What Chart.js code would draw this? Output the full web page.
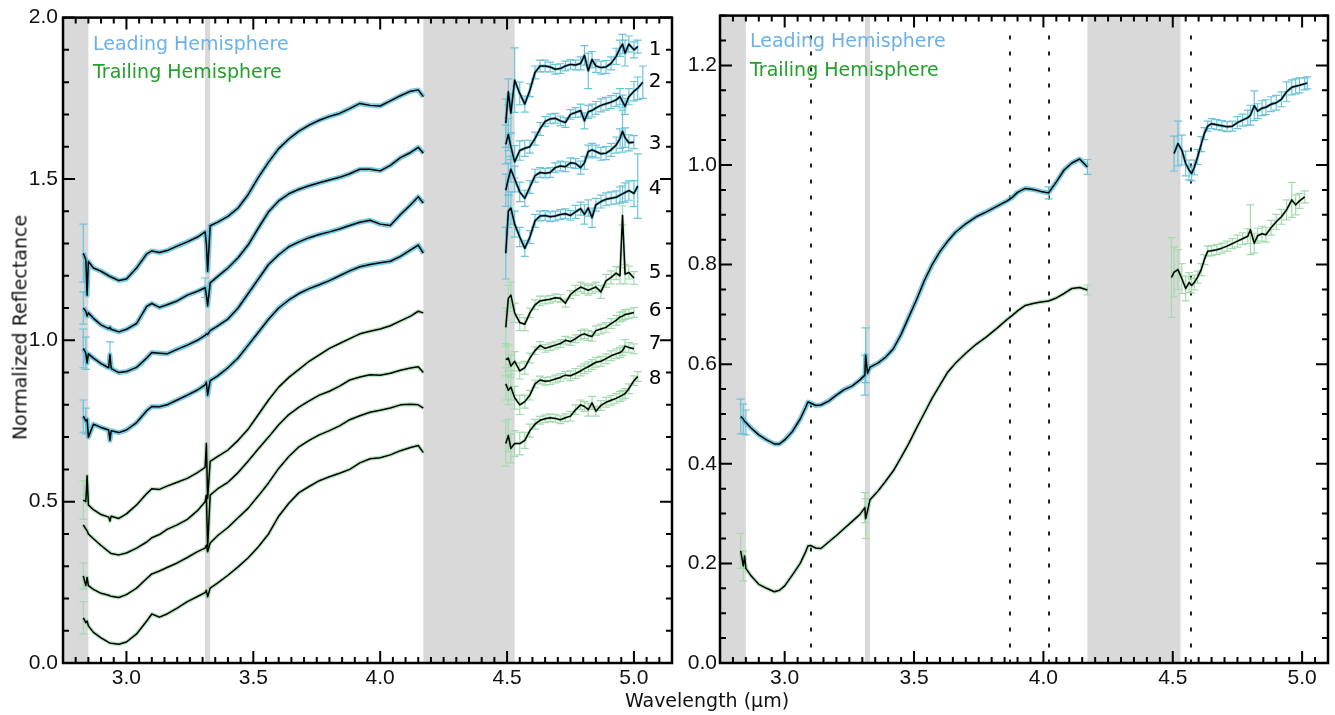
<!DOCTYPE html>
<html>
<head>
<meta charset="utf-8">
<script src="https://cdn.jsdelivr.net/npm/chart.js@4.4.1/dist/chart.umd.min.js"></script>
<style>
  body { margin: 0; background: #fff; width: 1335px; height: 715px; position: relative; overflow: hidden; font-family: "DejaVu Sans", sans-serif; }
  canvas { position: absolute; top: 0; }
  #left { left: 0; }
  #right { left: 675px; }
  .txt { position: absolute; white-space: nowrap; font-size: 19px; line-height: 19px; z-index: 2; }
  .lead { color: #6cb0ea; }
  .trail { color: #22a02a; }
</style>
</head>
<body>
<canvas id="left" width="675" height="715"></canvas>
<canvas id="right" width="660" height="715"></canvas>

<div class="txt lead" style="left:93px;top:34px">Leading Hemisphere</div>
<div class="txt trail" style="left:93px;top:62px">Trailing Hemisphere</div>
<div class="txt lead" style="left:750px;top:31px">Leading Hemisphere</div>
<div class="txt trail" style="left:750px;top:60px">Trailing Hemisphere</div>
<div class="txt" style="left:-130px;top:318px;width:300px;text-align:center;transform:rotate(-90deg);color:#111">Normalized Reflectance</div>
<div class="txt" style="left:707px;top:691px;transform:translateX(-50%);color:#111">Wavelength (μm)</div>

<script>
// axis ticks
const xTicks = [3.0, 3.5, 4.0, 4.5, 5.0];
const yTicksLeft = [0.0, 0.5, 1.0, 1.5, 2.0];
const yTicksRight = [0.0, 0.2, 0.4, 0.6, 0.8, 1.0, 1.2];

// masked wavelength ranges and marked bands (µm)
const grayBands = [[2.75, 2.85], [3.31, 3.33], [4.17, 4.53]];
const bandLines = [3.10, 3.87, 4.02, 4.57];

// left panel: 8 spectra, short- and long-wavelength parts
const wlShortL = [2.83, 2.84, 2.845, 2.85, 2.87, 2.90, 2.93, 2.935, 2.94, 2.97, 3.00, 3.04, 3.08, 3.10, 3.13, 3.16, 3.20, 3.24, 3.28, 3.31, 3.315, 3.32, 3.33, 3.36, 3.40, 3.44, 3.48, 3.52, 3.56, 3.60, 3.64, 3.68, 3.72, 3.76, 3.80, 3.84, 3.88, 3.92, 3.96, 4.00, 4.04, 4.08, 4.12, 4.15, 4.17];
const wlLongL = [4.495, 4.505, 4.515, 4.53, 4.55, 4.57, 4.59, 4.61, 4.63, 4.65, 4.67, 4.69, 4.71, 4.73, 4.75, 4.77, 4.79, 4.805, 4.82, 4.835, 4.85, 4.87, 4.89, 4.91, 4.93, 4.945, 4.955, 4.965, 4.98, 5.00, 5.015, 5.035];

const s1Short = [1.27, 1.25, 1.14, 1.244, 1.224, 1.214, 1.20, 1.198, 1.196, 1.185, 1.19, 1.224, 1.268, 1.277, 1.272, 1.278, 1.292, 1.305, 1.32, 1.336, 1.30, 1.214, 1.355, 1.366, 1.384, 1.41, 1.452, 1.505, 1.552, 1.594, 1.624, 1.648, 1.667, 1.682, 1.694, 1.703, 1.718, 1.734, 1.728, 1.726, 1.742, 1.758, 1.772, 1.776, 1.755];
const s2Short = [1.10, 1.09, 1.075, 1.085, 1.068, 1.048, 1.036, 1.04, 1.034, 1.026, 1.034, 1.052, 1.105, 1.114, 1.102, 1.11, 1.122, 1.14, 1.152, 1.163, 1.14, 1.107, 1.178, 1.198, 1.224, 1.256, 1.296, 1.348, 1.398, 1.432, 1.454, 1.468, 1.479, 1.488, 1.497, 1.505, 1.516, 1.53, 1.53, 1.525, 1.542, 1.566, 1.582, 1.598, 1.58];
const s3Short = [0.975, 0.96, 0.93, 0.958, 0.945, 0.928, 0.915, 0.955, 0.912, 0.90, 0.903, 0.916, 0.945, 0.962, 0.96, 0.958, 0.972, 0.985, 1.0, 1.015, 1.02, 1.018, 1.03, 1.045, 1.066, 1.10, 1.145, 1.19, 1.235, 1.265, 1.29, 1.305, 1.318, 1.328, 1.336, 1.345, 1.356, 1.366, 1.372, 1.36, 1.356, 1.39, 1.42, 1.445, 1.425];
const s4Short = [0.765, 0.75, 0.755, 0.70, 0.74, 0.73, 0.722, 0.69, 0.72, 0.714, 0.722, 0.745, 0.782, 0.795, 0.794, 0.80, 0.815, 0.83, 0.846, 0.862, 0.87, 0.83, 0.875, 0.89, 0.915, 0.945, 0.985, 1.025, 1.065, 1.10, 1.125, 1.145, 1.16, 1.172, 1.185, 1.20, 1.215, 1.228, 1.235, 1.24, 1.245, 1.26, 1.28, 1.295, 1.27];
const s5Short = [0.505, 0.50, 0.58, 0.49, 0.475, 0.46, 0.452, 0.44, 0.455, 0.448, 0.462, 0.49, 0.525, 0.54, 0.538, 0.548, 0.56, 0.572, 0.59, 0.606, 0.68, 0.51, 0.625, 0.64, 0.66, 0.69, 0.725, 0.77, 0.815, 0.855, 0.885, 0.91, 0.935, 0.955, 0.975, 0.99, 1.005, 1.02, 1.028, 1.035, 1.045, 1.06, 1.075, 1.09, 1.085];
const s6Short = [0.428, 0.415, 0.41, 0.40, 0.385, 0.364, 0.345, 0.342, 0.339, 0.335, 0.341, 0.356, 0.375, 0.388, 0.398, 0.414, 0.428, 0.445, 0.472, 0.50, 0.52, 0.36, 0.52, 0.54, 0.56, 0.59, 0.626, 0.664, 0.70, 0.738, 0.77, 0.793, 0.812, 0.83, 0.842, 0.858, 0.877, 0.886, 0.893, 0.892, 0.898, 0.907, 0.914, 0.918, 0.90];
const s7Short = [0.27, 0.24, 0.265, 0.24, 0.228, 0.216, 0.21, 0.208, 0.207, 0.203, 0.212, 0.232, 0.262, 0.276, 0.285, 0.296, 0.31, 0.327, 0.345, 0.356, 0.365, 0.345, 0.372, 0.395, 0.42, 0.45, 0.48, 0.518, 0.558, 0.603, 0.64, 0.67, 0.69, 0.707, 0.72, 0.735, 0.754, 0.766, 0.777, 0.783, 0.79, 0.80, 0.802, 0.80, 0.79];
const s8Short = [0.14, 0.125, 0.13, 0.115, 0.095, 0.078, 0.064, 0.062, 0.061, 0.058, 0.065, 0.09, 0.13, 0.152, 0.142, 0.152, 0.17, 0.19, 0.206, 0.218, 0.225, 0.205, 0.232, 0.248, 0.272, 0.298, 0.326, 0.36, 0.40, 0.455, 0.495, 0.528, 0.547, 0.565, 0.577, 0.588, 0.60, 0.62, 0.633, 0.636, 0.645, 0.658, 0.668, 0.674, 0.652];

// the few visible uncertainties on the short parts, keyed by position in wlShortL
const e1Short = { 0: 0.09 };
const e2Short = { 0: 0.05, 19: 0.03 };
const e3Short = { 0: 0.06, 1: 0.05, 7: 0.04 };
const e4Short = { 0: 0.05, 1: 0.04 };
const e5Short = { 0: 0.06 };
const e6Short = {};
const e7Short = { 0: 0.04 };
const e8Short = { 0: 0.05 };

const s1Long = [1.673, 1.77, 1.704, 1.806, 1.765, 1.732, 1.775, 1.83, 1.85, 1.85, 1.847, 1.84, 1.842, 1.85, 1.855, 1.853, 1.858, 1.883, 1.835, 1.87, 1.85, 1.845, 1.847, 1.858, 1.88, 1.905, 1.918, 1.89, 1.918, 1.90, 1.91, null];
const s2Long = [1.607, 1.638, 1.60, 1.553, 1.588, 1.595, 1.60, 1.625, 1.655, 1.678, 1.686, 1.688, 1.68, 1.675, 1.70, 1.706, 1.712, 1.68, 1.708, 1.712, 1.72, 1.728, 1.733, 1.738, 1.745, 1.755, 1.74, 1.725, 1.755, 1.772, 1.781, 1.80];
const s3Long = [1.465, 1.50, 1.53, 1.50, 1.46, 1.44, 1.475, 1.51, 1.52, 1.518, 1.52, 1.535, 1.54, 1.538, 1.55, 1.548, 1.535, 1.55, 1.585, 1.59, 1.585, 1.578, 1.58, 1.59, 1.605, 1.625, 1.648, 1.628, 1.612, 1.614, null, null];
const s4Long = [1.27, 1.40, 1.41, 1.36, 1.32, 1.285, 1.32, 1.37, 1.385, 1.387, 1.383, 1.385, 1.39, 1.392, 1.387, 1.398, 1.408, 1.39, 1.41, 1.38, 1.42, 1.43, 1.437, 1.44, 1.443, 1.45, 1.454, 1.458, 1.464, 1.455, 1.478, null];
const s5Long = [1.04, 1.13, 1.14, 1.085, 1.055, 1.05, 1.085, 1.11, 1.122, 1.125, 1.127, 1.132, 1.13, 1.115, 1.142, 1.155, 1.165, 1.16, 1.155, 1.16, 1.165, 1.15, 1.184, 1.195, 1.208, 1.20, 1.387, 1.205, 1.21, 1.193, null, null];
const s6Long = [0.94, 0.945, 0.92, 0.935, 0.905, 0.915, 0.945, 0.968, 0.984, 0.975, 0.98, 0.985, 0.99, 1.0, 0.996, 1.005, 1.016, 1.02, 1.015, 1.012, 1.03, 1.035, 1.04, 1.052, 1.062, 1.072, 1.075, 1.08, 1.082, 1.086, null, null];
const s7Long = [0.865, 0.845, 0.855, 0.822, 0.80, 0.81, 0.83, 0.865, 0.877, 0.873, 0.875, 0.88, 0.885, 0.892, 0.89, 0.897, 0.905, 0.912, 0.918, 0.925, 0.932, 0.935, 0.943, 0.952, 0.958, 0.962, 0.968, 0.982, 0.978, 0.974, null, null];
const s8Long = [0.68, 0.705, 0.665, 0.68, 0.68, 0.69, 0.72, 0.74, 0.752, 0.757, 0.76, 0.758, 0.754, 0.76, 0.765, 0.785, 0.80, 0.795, 0.785, 0.806, 0.78, 0.798, 0.808, 0.814, 0.82, 0.826, 0.83, 0.835, 0.85, 0.875, 0.888, null];

// 1-sigma uncertainties on the long-wavelength parts
const e1Long = [0.075, 0.04, 0.06, 0.1, 0.035, 0.025, 0.02, 0.02, 0.018, 0.018, 0.015, 0.015, 0.015, 0.015, 0.015, 0.015, 0.02, 0.03, 0.055, 0.025, 0.02, 0.02, 0.02, 0.02, 0.025, 0.025, 0.03, 0.04, 0.025, 0.025, 0.02, null];
const e2Long = [0.06, 0.05, 0.04, 0.05, 0.03, 0.025, 0.02, 0.02, 0.02, 0.015, 0.015, 0.015, 0.015, 0.015, 0.015, 0.015, 0.02, 0.025, 0.02, 0.02, 0.02, 0.02, 0.02, 0.02, 0.02, 0.025, 0.02, 0.025, 0.025, 0.03, 0.035, 0.05];
const e3Long = [0.05, 0.05, 0.04, 0.04, 0.03, 0.025, 0.02, 0.02, 0.015, 0.015, 0.015, 0.015, 0.015, 0.015, 0.015, 0.015, 0.02, 0.02, 0.02, 0.02, 0.02, 0.02, 0.02, 0.02, 0.025, 0.03, 0.065, 0.03, 0.025, 0.02, null, null];
const e4Long = [0.08, 0.05, 0.05, 0.04, 0.03, 0.025, 0.02, 0.02, 0.015, 0.015, 0.015, 0.015, 0.015, 0.015, 0.015, 0.02, 0.02, 0.03, 0.025, 0.03, 0.02, 0.02, 0.02, 0.02, 0.02, 0.025, 0.025, 0.03, 0.03, 0.04, 0.1, null];
const e5Long = [0.06, 0.04, 0.04, 0.03, 0.025, 0.02, 0.015, 0.015, 0.015, 0.012, 0.012, 0.012, 0.012, 0.012, 0.012, 0.015, 0.015, 0.015, 0.015, 0.015, 0.015, 0.02, 0.02, 0.02, 0.02, 0.025, 0.03, 0.03, 0.02, 0.02, null, null];
const e6Long = [0.05, 0.04, 0.035, 0.03, 0.025, 0.02, 0.015, 0.012, 0.012, 0.012, 0.012, 0.012, 0.012, 0.012, 0.012, 0.012, 0.015, 0.015, 0.015, 0.015, 0.015, 0.015, 0.015, 0.015, 0.015, 0.015, 0.015, 0.015, 0.015, 0.015, null, null];
const e7Long = [0.05, 0.045, 0.04, 0.035, 0.03, 0.02, 0.015, 0.012, 0.012, 0.012, 0.012, 0.012, 0.012, 0.012, 0.015, 0.015, 0.015, 0.015, 0.015, 0.015, 0.015, 0.015, 0.015, 0.015, 0.015, 0.015, 0.015, 0.02, 0.015, 0.015, null, null];
const e8Long = [0.07, 0.05, 0.045, 0.04, 0.035, 0.025, 0.02, 0.015, 0.012, 0.012, 0.012, 0.012, 0.012, 0.012, 0.015, 0.015, 0.015, 0.015, 0.02, 0.02, 0.015, 0.015, 0.015, 0.015, 0.015, 0.015, 0.015, 0.015, 0.015, 0.015, 0.015, null];

const spectrumNames = ['1', '2', '3', '4', '5', '6', '7', '8'];
const nameY = [1.90, 1.80, 1.61, 1.47, 1.21, 1.09, 0.99, 0.88];

// right panel: hemisphere averages
const wlShortR = [2.83, 2.84, 2.845, 2.85, 2.87, 2.90, 2.93, 2.96, 2.98, 3.00, 3.03, 3.06, 3.08, 3.09, 3.10, 3.12, 3.14, 3.17, 3.20, 3.23, 3.26, 3.29, 3.31, 3.313, 3.32, 3.33, 3.36, 3.39, 3.42, 3.45, 3.48, 3.51, 3.54, 3.57, 3.60, 3.63, 3.66, 3.70, 3.74, 3.78, 3.82, 3.86, 3.88, 3.90, 3.93, 3.96, 3.99, 4.02, 4.05, 4.08, 4.11, 4.14, 4.17];
const wlLongR = [4.495, 4.505, 4.52, 4.535, 4.55, 4.563, 4.573, 4.583, 4.596, 4.61, 4.622, 4.635, 4.65, 4.67, 4.69, 4.71, 4.73, 4.75, 4.77, 4.79, 4.80, 4.815, 4.828, 4.845, 4.86, 4.88, 4.90, 4.92, 4.94, 4.96, 4.975, 4.99, 5.01, 5.02];

const leadShort = [0.495, 0.49, 0.485, 0.483, 0.472, 0.458, 0.448, 0.44, 0.44, 0.448, 0.465, 0.49, 0.512, 0.524, 0.522, 0.517, 0.518, 0.526, 0.538, 0.549, 0.556, 0.568, 0.578, 0.618, 0.582, 0.594, 0.602, 0.614, 0.631, 0.66, 0.695, 0.73, 0.768, 0.80, 0.826, 0.847, 0.865, 0.882, 0.896, 0.906, 0.917, 0.928, 0.935, 0.945, 0.953, 0.951, 0.947, 0.944, 0.966, 0.99, 1.004, 1.012, 0.996];
const trailShort = [0.225, 0.195, 0.215, 0.19, 0.175, 0.158, 0.15, 0.143, 0.146, 0.155, 0.177, 0.20, 0.222, 0.235, 0.236, 0.231, 0.23, 0.243, 0.256, 0.27, 0.284, 0.298, 0.312, 0.29, 0.305, 0.328, 0.345, 0.365, 0.386, 0.413, 0.441, 0.472, 0.502, 0.532, 0.558, 0.584, 0.602, 0.622, 0.64, 0.655, 0.672, 0.69, 0.698, 0.707, 0.718, 0.722, 0.725, 0.727, 0.733, 0.742, 0.752, 0.754, 0.749];
const leadShortErr = { 0: 0.035, 1: 0.03, 3: 0.025, 22: 0.04, 23: 0.055, 47: 0.012, 52: 0.015 };
const trailShortErr = { 0: 0.035, 1: 0.03, 22: 0.03, 23: 0.04, 52: 0.01 };
const leadLong = [null, 1.023, 1.043, 1.03, 1.003, 0.99, 0.983, 0.995, 1.016, 1.042, 1.063, 1.078, 1.083, 1.081, 1.079, 1.077, 1.078, 1.085, 1.09, 1.095, 1.10, 1.119, 1.108, 1.114, 1.116, 1.122, 1.125, 1.132, 1.147, 1.156, 1.158, 1.16, 1.163, 1.165];
const trailLong = [0.774, 0.785, 0.79, 0.772, 0.752, 0.764, 0.758, 0.764, 0.775, 0.79, 0.81, 0.827, 0.828, 0.83, 0.833, 0.837, 0.842, 0.847, 0.852, 0.857, 0.87, 0.843, 0.858, 0.862, 0.86, 0.874, 0.886, 0.896, 0.91, 0.93, 0.92, 0.928, 0.936, null];
const leadLongErr = [null, 0.035, 0.045, 0.03, 0.025, 0.02, 0.015, 0.015, 0.015, 0.015, 0.012, 0.01, 0.01, 0.01, 0.01, 0.01, 0.01, 0.012, 0.012, 0.015, 0.02, 0.03, 0.015, 0.015, 0.015, 0.015, 0.015, 0.015, 0.02, 0.015, 0.015, 0.015, 0.012, 0.012];
const trailLongErr = [0.08, 0.05, 0.04, 0.03, 0.025, 0.02, 0.015, 0.015, 0.012, 0.012, 0.01, 0.01, 0.01, 0.01, 0.01, 0.01, 0.01, 0.012, 0.012, 0.015, 0.05, 0.02, 0.015, 0.015, 0.015, 0.015, 0.015, 0.015, 0.02, 0.035, 0.02, 0.015, 0.012, null];

const leadHalo = 'rgba(86, 190, 218, 0.8)';
const trailHalo = 'rgba(140, 212, 150, 0.6)';
const leadErr = '#6cc3da';
const trailErr = '#a3dbae';

function points(wl, vals, errs) {
  return wl.map((x, i) => ({ x: x, y: vals[i], e: errs && errs[i] != null ? errs[i] : null }))
           .filter(p => p.y != null);
}

function line(data, color, width, order, errColor) {
  return { data: data, borderColor: color, borderWidth: width, pointRadius: 0, tension: 0,
           fill: false, borderJoinStyle: 'round', order: order, errColor: errColor };
}

function spectrum(sets, wlS, shortVals, shortErr, wlL, longVals, longErr, lead) {
  const halo = lead ? leadHalo : trailHalo;
  const errColor = lead ? leadErr : trailErr;
  const s = points(wlS, shortVals, shortErr), l = points(wlL, longVals, longErr);
  sets.push(line(s, halo, lead ? 5 : 4, 1));
  sets.push(line(s, '#000', 1.5, 0, errColor));
  sets.push(line(l, halo, 3, 1));
  sets.push(line(l, '#000', 1.5, 0, errColor));
}

// bands, error bars, inward ticks, frame
const deco = {
  id: 'deco',
  beforeDatasetsDraw(chart, args, o) {
    const { ctx, chartArea: a, scales: { x, y } } = chart;
    ctx.save();
    ctx.beginPath();
    ctx.rect(a.left, a.top, a.right - a.left, a.bottom - a.top);
    ctx.clip();
    ctx.fillStyle = '#d9d9d9';
    o.bands.forEach(b => {
      const p0 = x.getPixelForValue(b[0]), p1 = x.getPixelForValue(b[1]);
      ctx.fillRect(p0, a.top, p1 - p0, a.bottom - a.top);
    });
    ctx.strokeStyle = '#222';
    ctx.lineWidth = 2;
    ctx.setLineDash([4, 12]);
    (o.vlines || []).forEach(v => {
      const p = Math.round(x.getPixelForValue(v));
      ctx.beginPath();
      ctx.moveTo(p, a.top + 20);
      ctx.lineTo(p, a.bottom);
      ctx.stroke();
    });
    ctx.setLineDash([]);
    ctx.lineWidth = 1.2;
    chart.data.datasets.forEach(ds => {
      if (!ds.errColor) return;
      ctx.strokeStyle = ds.errColor;
      ds.data.forEach(p => {
        if (p.e == null) return;
        const px = x.getPixelForValue(p.x);
        const y0 = y.getPixelForValue(p.y - p.e), y1 = y.getPixelForValue(p.y + p.e);
        ctx.beginPath();
        ctx.moveTo(px, y0); ctx.lineTo(px, y1);
        ctx.moveTo(px - 4, y0); ctx.lineTo(px + 4, y0);
        ctx.moveTo(px - 4, y1); ctx.lineTo(px + 4, y1);
        ctx.stroke();
      });
    });
    ctx.restore();
  },
  afterDatasetsDraw(chart, args, o) {
    const { ctx, chartArea: a, scales: { x, y } } = chart;
    ctx.save();
    ctx.strokeStyle = '#000';
    ctx.lineWidth = 2;
    const walk = (scale, minor, major, draw) => {
      for (let k = Math.ceil(scale.min / minor - 1e-6); k * minor <= scale.max + 1e-6; k++) {
        const v = k * minor;
        const isMajor = Math.abs(v / major - Math.round(v / major)) < 1e-6;
        draw(scale.getPixelForValue(v), isMajor ? 12 : 6);
      }
    };
    ctx.beginPath();
    walk(x, 0.05, 0.5, (p, len) => {
      ctx.moveTo(p, a.bottom); ctx.lineTo(p, a.bottom - len);
      ctx.moveTo(p, a.top); ctx.lineTo(p, a.top + len);
    });
    walk(y, o.yMinor, o.yMajor, (p, len) => {
      ctx.moveTo(a.left, p); ctx.lineTo(a.left + len, p);
      ctx.moveTo(a.right, p); ctx.lineTo(a.right - len, p);
    });
    ctx.stroke();
    ctx.lineWidth = 2.5;
    ctx.strokeRect(a.left, a.top, a.right - a.left, a.bottom - a.top);
    if (o.names) {
      ctx.fillStyle = '#000';
      ctx.font = '20px "DejaVu Sans"';
      ctx.textAlign = 'center';
      ctx.textBaseline = 'middle';
      o.names.forEach((t, i) => ctx.fillText(t, x.getPixelForValue(o.nameX), y.getPixelForValue(o.nameY[i])));
    }
    ctx.restore();
  }
};

const tickFont = { family: 'Liberation Sans', size: 21 };

function options(xMax, yMax, yTicks, axisW, yPad, padRight, decoOpts) {
  return {
    responsive: false,
    animation: false,
    layout: { padding: { top: 10, right: padRight, bottom: 0, left: 0 } },
    plugins: { legend: { display: false }, tooltip: { enabled: false }, deco: decoOpts },
    scales: {
      x: {
        type: 'linear', min: 2.75, max: xMax,
        grid: { display: false, drawTicks: false }, border: { display: false },
        afterBuildTicks: s => { s.ticks = xTicks.map(v => ({ value: v })); },
        afterFit: s => { s.height = 52; },
        ticks: { autoSkip: false, maxRotation: 0, padding: 3, color: '#111', font: tickFont,
                 callback: v => v.toFixed(1) }
      },
      y: {
        type: 'linear', min: 0, max: yMax,
        grid: { display: false, drawTicks: false }, border: { display: false },
        afterBuildTicks: s => { s.ticks = yTicks.map(v => ({ value: v })); },
        afterFit: s => { s.width = axisW; },
        ticks: { autoSkip: false, padding: yPad, color: '#111', font: tickFont,
                 callback: v => v.toFixed(1) }
      }
    }
  };
}

const leftSets = [];
spectrum(leftSets, wlShortL, s1Short, e1Short, wlLongL, s1Long, e1Long, true);
spectrum(leftSets, wlShortL, s2Short, e2Short, wlLongL, s2Long, e2Long, true);
spectrum(leftSets, wlShortL, s3Short, e3Short, wlLongL, s3Long, e3Long, true);
spectrum(leftSets, wlShortL, s4Short, e4Short, wlLongL, s4Long, e4Long, true);
spectrum(leftSets, wlShortL, s5Short, e5Short, wlLongL, s5Long, e5Long, false);
spectrum(leftSets, wlShortL, s6Short, e6Short, wlLongL, s6Long, e6Long, false);
spectrum(leftSets, wlShortL, s7Short, e7Short, wlLongL, s7Long, e7Long, false);
spectrum(leftSets, wlShortL, s8Short, e8Short, wlLongL, s8Long, e8Long, false);

new Chart(document.getElementById('left'), {
  type: 'line',
  data: { datasets: leftSets },
  options: options(5.15, 2.0, yTicksLeft, 63, 5, 3,
    { bands: grayBands, yMinor: 0.1, yMajor: 0.5, names: spectrumNames, nameX: 5.083, nameY: nameY }),
  plugins: [deco]
});

const rightSets = [];
spectrum(rightSets, wlShortR, leadShort, leadShortErr, wlLongR, leadLong, leadLongErr, true);
spectrum(rightSets, wlShortR, trailShort, trailShortErr, wlLongR, trailLong, trailLongErr, false);

new Chart(document.getElementById('right'), {
  type: 'line',
  data: { datasets: rightSets },
  options: options(5.10, 1.3, yTicksRight, 45, 3, 7,
    { bands: grayBands, vlines: bandLines, yMinor: 0.05, yMajor: 0.2 }),
  plugins: [deco]
});
</script>
</body>
</html>
